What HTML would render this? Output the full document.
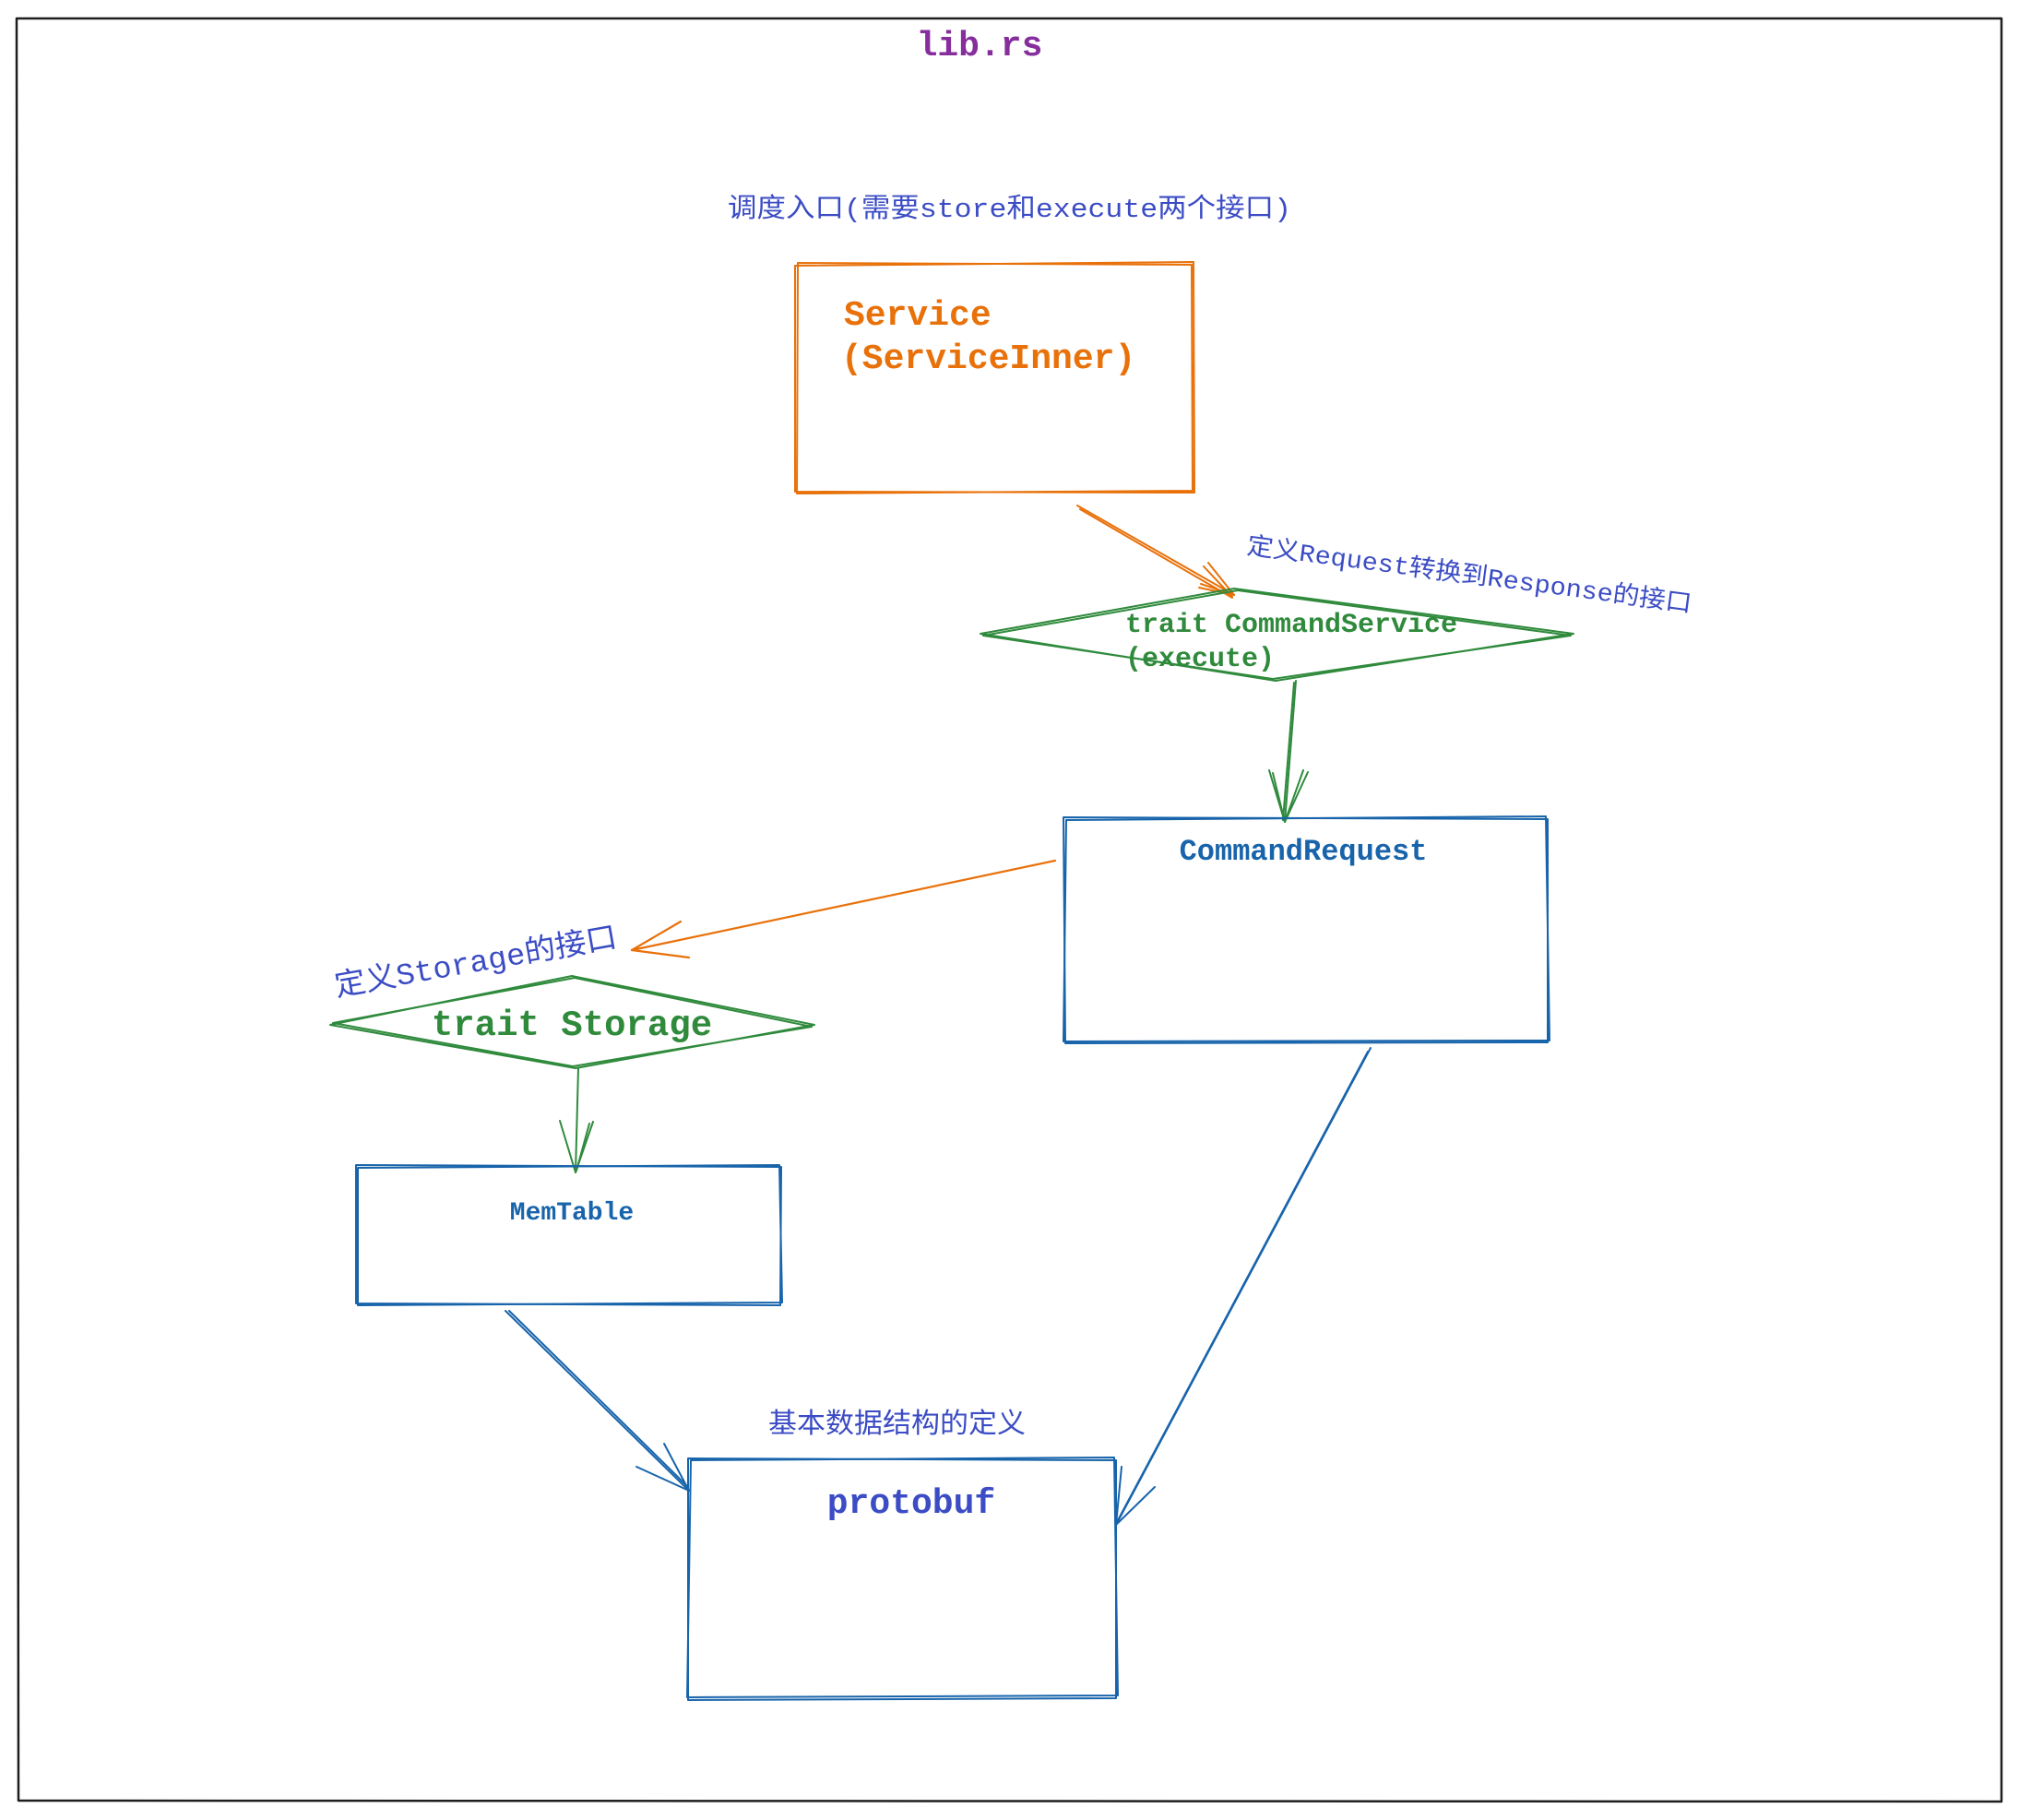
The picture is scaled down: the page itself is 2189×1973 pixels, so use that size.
<!DOCTYPE html>
<html><head><meta charset="utf-8"><style>
html,body{margin:0;padding:0;background:#fff}
svg{display:block}
text{font-family:"Liberation Mono","Noto Sans CJK SC",monospace;font-weight:bold}
.cj{font-family:"Liberation Mono","Noto Sans CJK SC",monospace;font-weight:normal}
</style></head><body>
<svg width="2189" height="1973" viewBox="0 0 2189 1973" xmlns="http://www.w3.org/2000/svg" fill="none" stroke-linecap="round" stroke-linejoin="round">
<path d="M18 20 L2170 20 L2170 1953 L20 1952 Z" stroke="#1e1e1e" stroke-width="2.5"/>
<text x="1062" y="60" fill="#862e9c" font-size="38" text-anchor="middle" stroke="none">lib.rs</text>

<text x="789" y="235" fill="#3b4cc4" font-size="29" class="cj" stroke="none" textLength="611" lengthAdjust="spacingAndGlyphs">调度入口(需要store和execute两个接口)</text>
<g stroke="#e8710a" stroke-width="2">
<path d="M862 288 L1294 284 L1295 534 L862 533 Z"/>
<path d="M865 285 L1292 287 L1293 532 L864 535 Z"/>
</g>
<text x="915" y="352" fill="#e8710a" font-size="38" stroke="none">Service</text>
<text x="912" y="399" fill="#e8710a" font-size="38" stroke="none">(ServiceInner)</text>

<g stroke="#e8710a" stroke-width="2">
<path d="M1168 548 L1338 645"/><path d="M1171 552 L1336 648"/>
<path d="M1338 645 L1300 637"/><path d="M1338 645 L1302 633"/>
<path d="M1338 645 L1310 610"/><path d="M1336 647 L1305 614"/>
</g>
<text transform="translate(1351,600) rotate(7.5)" fill="#3b4cc4" font-size="27" class="cj" stroke="none" textLength="486" lengthAdjust="spacingAndGlyphs">定义Request转换到Response的接口</text>

<g stroke="#2f8a3c" stroke-width="2">
<path d="M1063 687 L1338 638 L1706 687 L1383 738 Z"/>
<path d="M1066 689 L1342 640 L1703 689 L1380 736 Z"/>
</g>
<text x="1220" y="685" fill="#2f8a3c" font-size="30" stroke="none">trait CommandService</text>
<text x="1220" y="722" fill="#2f8a3c" font-size="30" stroke="none">(execute)</text>
<g stroke="#2f8a3c" stroke-width="2">
<path d="M1405 738 L1393 891"/><path d="M1403 740 L1391 889"/>
<path d="M1393 891 L1376 835"/><path d="M1393 891 L1380 838"/>
<path d="M1393 891 L1418 837"/><path d="M1393 891 L1413 835"/>
</g>

<g stroke="#1864ab" stroke-width="2">
<path d="M1153 886 L1678 888 L1678 1130 L1155 1131 Z"/>
<path d="M1156 889 L1676 885 L1680 1128 L1153 1129 Z"/>
</g>
<text x="1413" y="932" fill="#1864ab" font-size="32" text-anchor="middle" stroke="none">CommandRequest</text>

<g stroke="#e8710a" stroke-width="2.2">
<path d="M1144 933 L685 1030"/>
<path d="M685 1030 L738 999"/><path d="M685 1030 L747 1038"/>
</g>
<text transform="translate(365,1080) rotate(-10)" fill="#3b4cc4" font-size="33" class="cj" stroke="none" textLength="310" lengthAdjust="spacingAndGlyphs">定义Storage的接口</text>

<g stroke="#2f8a3c" stroke-width="2">
<path d="M358 1111 L620 1058 L883 1111 L624 1158 Z"/>
<path d="M361 1109 L623 1060 L880 1113 L621 1156 Z"/>
</g>
<text x="620" y="1122" fill="#2f8a3c" font-size="39" text-anchor="middle" stroke="none">trait Storage</text>
<g stroke="#2f8a3c" stroke-width="2">
<path d="M627 1158 L624 1271"/>
<path d="M624 1271 L607 1215"/><path d="M624 1271 L643 1216"/><path d="M625 1269 L639 1218"/>
</g>

<g stroke="#1864ab" stroke-width="2">
<path d="M386 1263 L847 1265 L846 1415 L386 1413 Z"/>
<path d="M388 1266 L845 1263 L848 1412 L388 1415 Z"/>
</g>
<text x="620" y="1322" fill="#1864ab" font-size="28" text-anchor="middle" stroke="none">MemTable</text>

<g stroke="#1864ab" stroke-width="2">
<path d="M548 1421 L747 1616"/><path d="M552 1421 L746 1612"/>
<path d="M747 1616 L690 1590"/><path d="M747 1616 L720 1565"/>
<path d="M1486 1136 L1210 1653"/><path d="M1483 1140 L1212 1648"/>
<path d="M1210 1653 L1216 1590"/><path d="M1210 1653 L1252 1612"/>
</g>
<text x="833" y="1553" fill="#3b4cc4" font-size="30" class="cj" stroke="none" textLength="279" lengthAdjust="spacingAndGlyphs">基本数据结构的定义</text>

<g stroke="#1864ab" stroke-width="2">
<path d="M746 1581 L1210 1583 L1210 1841 L746 1843 Z"/>
<path d="M749 1583 L1208 1580 L1212 1838 L745 1840 Z"/>
</g>
<text x="988" y="1640" fill="#3b4cc4" font-size="38" text-anchor="middle" stroke="none">protobuf</text>
</svg>
</body></html>
